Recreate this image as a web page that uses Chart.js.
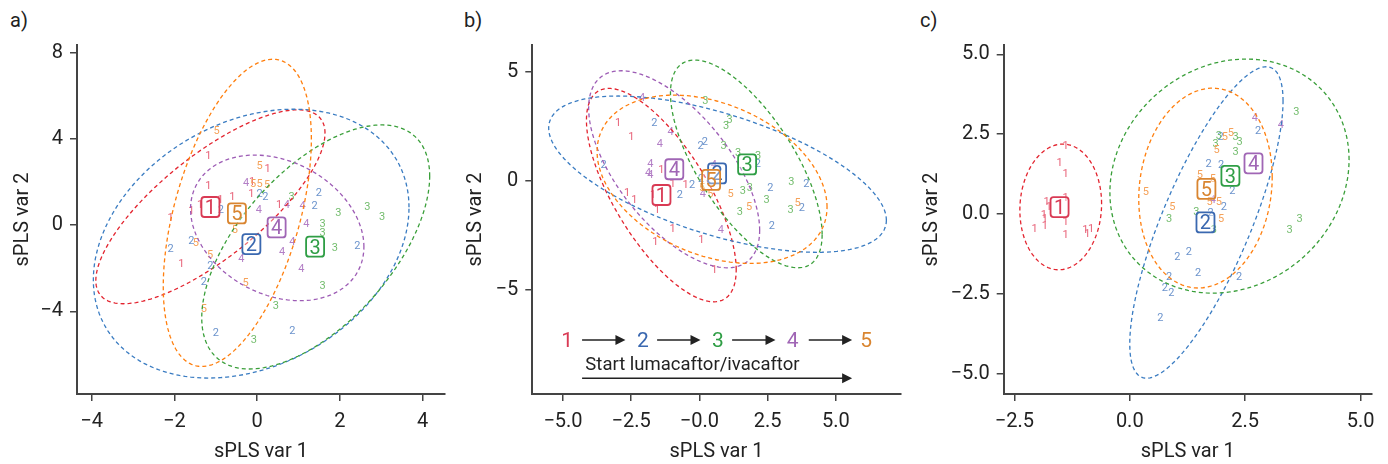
<!DOCTYPE html>
<html>
<head>
<meta charset="utf-8">
<script src="https://cdn.jsdelivr.net/npm/chart.js@4/dist/chart.umd.min.js"></script>
<style>
  body { margin: 0; background: #fff; width: 1388px; height: 464px; position: relative; overflow: hidden; }
  canvas { position: absolute; top: 0; }
  .plab { position: absolute; top: 8px; font: 20px Roboto, sans-serif; color: #222; line-height: 24px; }
</style>
</head>
<body>
<div class="plab" style="left:10px">a)</div>
<div class="plab" style="left:464px">b)</div>
<div class="plab" style="left:920px">c)</div>
<canvas id="pa" width="460" height="464" style="left:0"></canvas>
<canvas id="pb" width="460" height="464" style="left:460px"></canvas>
<canvas id="pc" width="468" height="464" style="left:920px"></canvas>
<script>
// groups 1..5 (visit), colours for ellipse / point text / centroid box
const GROUPS = ['1', '2', '3', '4', '5'];
const COL_LINE = ['#e3242f', '#3a7cc2', '#3a9f3a', '#9d5cb5', '#ff7f0e'];
const COL_TEXT = ['#e8647a', '#6b93cc', '#74bd6e', '#b37fc6', '#f5a25a'];
const COL_BOX  = ['#d93a54', '#3a68b0', '#2f9e45', '#a066b5', '#d98530'];

// ---- panel a
const aTicksX = [-4, -2, 0, 2, 4];
const aLabelsX = ['−4', '−2', '0', '2', '4'];
const aTicksY = [-4, 0, 4, 8];
const aLabelsY = ['−4', '0', '4', '8'];
const aG1 = [[-1.18,3.26],[0.25,2.65],[-1.18,1.87],[-0.12,2.03],[-0.60,1.36],[-0.89,1.22],[-0.14,1.48],[-1.38,0.99],[-1.59,0.68],[-2.09,0.37],[-1.83,-1.76],[0.53,0.99]];
const aG2 = [[0.06,1.48],[0.20,1.33],[-0.88,0.74],[1.49,1.52],[1.39,0.94],[-1.59,-0.68],[-2.09,-1.07],[-1.13,-1.84],[-1.29,-2.58],[2.42,-0.91],[-1.00,-4.98],[0.85,-4.86]];
const aG3 = [[0.83,1.33],[1.96,0.59],[2.66,0.90],[3.02,0.43],[1.58,0.12],[1.58,-0.34],[1.88,-1.02],[1.58,-2.77],[0.45,-3.70],[-0.08,-5.29]];
const aG4 = [[-0.27,1.98],[0.04,0.74],[0.72,0.99],[1.10,0.94],[1.19,0.09],[0.85,-0.76],[0.60,-1.18],[-0.38,-1.53],[1.07,-2.00]];
const aG5 = [[-0.98,4.42],[0.06,2.80],[-0.10,1.95],[0.06,1.95],[0.24,1.89],[-0.54,-0.19],[-1.48,-0.79],[-1.14,-1.33],[-0.28,-2.65],[-1.29,-3.85]];
const aCentroids = [[-1.13,0.84],[-0.14,-0.88],[1.40,-1.00],[0.47,-0.11],[-0.49,0.54]];
// ellipse: [cx, cy, half width, half height, correlation]
const aEllipses = [[-1.13,0.85,2.77,4.50,0.76],[-0.145,-0.86,3.815,6.24,0.27],[1.415,-1.015,2.755,5.665,0.58],[0.485,-0.13,2.095,3.38,-0.26],[-0.48,0.57,1.79,7.13,0.48]];

// ---- panel b
const bTicksX = [-5, -2.5, 0, 2.5, 5];
const bLabelsX = ['−5.0', '−2.5', '−0.0', '2.5', '5.0'];
const bTicksY = [-5, 0, 5];
const bLabelsY = ['−5', '0', '5'];
const bG1 = [[-2.98,2.72],[-2.49,2.06],[-1.39,0.54],[-0.98,-0.08],[-0.51,-0.14],[-1.70,-0.61],[-2.65,-0.49],[-2.38,-0.84],[-1.55,-1.30],[-0.98,-2.17],[-1.61,-2.75],[0.07,-2.68],[0.55,-4.05]];
const bG2 = [[-1.65,2.69],[0.04,1.65],[0.20,1.83],[-3.51,0.78],[-0.27,-0.14],[-0.72,-0.61],[0.06,0.12],[2.14,0.81],[2.60,-0.29],[3.92,-0.08],[3.76,-1.21],[2.66,-2.02]];
const bG3 = [[0.22,3.72],[0.98,2.57],[1.11,2.83],[0.89,1.65],[1.42,1.35],[2.15,1.19],[1.85,-0.29],[1.59,-0.41],[2.46,-0.83],[1.48,-1.36],[3.37,0.00],[3.34,-1.28]];
const bG4 = [[-2.10,3.87],[-1.06,2.31],[-1.45,1.73],[-1.80,0.81],[-1.88,0.43],[-1.80,0.32],[0.53,0.76],[0.13,-0.57],[0.79,-2.22]];
const bG5 = [[0.10,-0.29],[0.40,-0.57],[1.14,-0.54],[1.82,-1.15],[3.60,-0.95]];
const bCentroids = [[-1.39,-0.64],[0.65,0.35],[1.75,0.76],[-0.92,0.54],[0.43,0.05]];
const bEllipses = [[-1.395,-0.645,2.745,4.895,-0.70],[0.665,0.315,6.19,3.585,-0.59],[1.72,0.785,2.78,4.765,-0.68],[-0.925,0.54,3.135,4.52,-0.62],[0.465,0.08,4.215,3.86,-0.33]];
// visit sequence annotation (data coords)
const bSeqX = [-4.85, -2.07, 0.68, 3.42, 6.11];
const bSeqY = -7.29;
const bArrows = [[-4.30,-2.71],[-1.55,0.04],[1.20,2.79],[4.01,5.60]];
const bStartText = 'Start lumacaftor/ivacaftor';
const bStartPos = [-4.18, -8.39];
const bLongArrow = [-4.30, 5.60, -9.05];

// ---- panel c
const cTicksX = [-2.5, 0, 2.5, 5];
const cLabelsX = ['−2.5', '0.0', '2.5', '5.0'];
const cTicksY = [-5, -2.5, 0, 2.5, 5];
const cLabelsY = ['−5.0', '−2.5', '0.0', '2.5', '5.0'];
const cG1 = [[-1.39,2.15],[-1.52,1.63],[-1.39,1.28],[-1.39,0.53],[-1.80,0.40],[-1.75,0.26],[-1.86,0.01],[-1.84,-0.13],[-2.06,-0.44],[-1.84,-0.33],[-1.39,-0.23],[-1.39,-0.63],[-0.96,-0.47],[-0.84,-0.44],[-0.92,-0.59]];
const cG2 = [[2.78,2.64],[1.97,2.43],[1.71,1.59],[1.98,1.56],[2.22,0.76],[2.04,0.27],[1.75,0.06],[1.03,-1.30],[1.28,-1.14],[1.48,-1.81],[0.85,-1.95],[0.76,-2.28],[0.90,-2.42],[2.37,-1.95],[0.66,-3.22]];
const cG3 = [[3.61,3.23],[1.93,2.48],[1.86,2.24],[2.29,2.45],[2.38,2.30],[2.29,1.98],[1.44,0.11],[0.85,-0.13],[1.82,-0.47],[3.68,-0.13],[3.46,-0.47]];
const cG4 = [[2.71,3.05],[3.27,2.82],[1.80,0.47]];
const cG5 = [[2.19,2.56],[2.06,2.45],[1.88,2.03],[1.52,1.26],[1.80,1.13],[0.35,0.73],[0.92,0.26],[1.73,0.40],[1.93,0.40],[1.98,-0.13]];
const cCentroids = [[-1.52,0.22],[1.64,-0.26],[2.18,1.20],[2.68,1.59],[1.66,0.79]];
const cEllipses = [[-1.495,0.225,0.885,1.965,0.05],[1.66,-0.26,1.66,4.87,0.78],[2.16,1.19,2.59,3.66,0.14],null,[1.64,0.815,1.445,3.125,0.11]];

const FONT = 'Roboto, sans-serif';

// draws point numbers, ellipses, centroid boxes and extra notes
const overlay = {
  id: 'overlay',
  afterDatasetsDraw(chart) {
    const ctx = chart.ctx, xs = chart.scales.x, ys = chart.scales.y, ca = chart.chartArea;
    const o = chart.options.plugins.overlay;
    ctx.save();
    // point labels
    ctx.font = '11px ' + FONT;
    ctx.textAlign = 'center';
    ctx.textBaseline = 'alphabetic';
    chart.data.datasets.forEach((ds, di) => {
      if (ds.kind !== 'pts') return;
      ctx.fillStyle = COL_TEXT[ds.g];
      chart.getDatasetMeta(di).data.forEach(p => ctx.fillText(GROUPS[ds.g], p.x, p.y + 4));
    });
    // ellipses
    ctx.save();
    ctx.beginPath(); ctx.rect(ca.left, ca.top, ca.right - ca.left, ca.bottom - ca.top); ctx.clip();
    ctx.lineWidth = 1.3;
    ctx.setLineDash([4, 3]);
    o.ellipses.forEach((e, g) => {
      if (!e) return;
      const [cx, cy, a, b, r] = e, s = Math.sqrt(1 - r * r);
      ctx.strokeStyle = COL_LINE[g];
      ctx.beginPath();
      for (let k = 0; k <= 160; k++) {
        const t = k / 160 * Math.PI * 2;
        const px = xs.getPixelForValue(cx + a * Math.cos(t));
        const py = ys.getPixelForValue(cy + b * (r * Math.cos(t) + s * Math.sin(t)));
        if (k === 0) ctx.moveTo(px, py); else ctx.lineTo(px, py);
      }
      ctx.stroke();
    });
    ctx.restore();
    // centroid boxes
    chart.data.datasets.forEach((ds, di) => {
      if (ds.kind !== 'box') return;
      chart.getDatasetMeta(di).data.forEach((p, g) => {
        ctx.strokeStyle = COL_BOX[g];
        ctx.lineWidth = 1.8;
        ctx.beginPath();
        ctx.roundRect(p.x - 9, p.y - 10, 18, 20, 3);
        ctx.fillStyle = 'rgba(255,255,255,0.35)';
        ctx.fill();
        ctx.stroke();
        ctx.fillStyle = COL_BOX[g];
        ctx.font = '20px ' + FONT;
        ctx.fillText(GROUPS[g], p.x, p.y + 7);
      });
    });
    // sequence notes (panel b)
    if (o.seq) {
      const yy = ys.getPixelForValue(bSeqY);
      ctx.font = '21px ' + FONT;
      bSeqX.forEach((x, g) => {
        ctx.fillStyle = COL_BOX[g];
        ctx.fillText(GROUPS[g], xs.getPixelForValue(x), yy + 7.5);
      });
      const arrow = (x0, x1, y) => {
        ctx.strokeStyle = '#222'; ctx.fillStyle = '#222'; ctx.lineWidth = 1.5;
        ctx.beginPath(); ctx.moveTo(x0, y); ctx.lineTo(x1 - 6, y); ctx.stroke();
        ctx.beginPath(); ctx.moveTo(x1, y); ctx.lineTo(x1 - 10, y - 5); ctx.lineTo(x1 - 10, y + 5); ctx.closePath(); ctx.fill();
      };
      bArrows.forEach(([x0, x1]) => arrow(xs.getPixelForValue(x0), xs.getPixelForValue(x1), yy));
      ctx.fillStyle = '#222';
      ctx.font = '18.5px ' + FONT;
      ctx.textAlign = 'left';
      ctx.fillText(bStartText, xs.getPixelForValue(bStartPos[0]), ys.getPixelForValue(bStartPos[1]) + 6.5);
      arrow(xs.getPixelForValue(bLongArrow[0]), xs.getPixelForValue(bLongArrow[1]), ys.getPixelForValue(bLongArrow[2]));
    }
    ctx.restore();
  }
};

function axis(min, max, ticks, labels, title, isX, size, titlePad) {
  return {
    type: 'linear', min: min, max: max,
    afterBuildTicks: s => { s.ticks = ticks.map(v => ({ value: v })); },
    afterFit: s => { if (isX) s.height = size; else s.width = size; },
    ticks: {
      callback: v => labels[ticks.indexOf(v)],
      font: { family: FONT, size: 20 }, color: '#222',
      padding: isX ? 9 : 7, maxRotation: 0, autoSkip: false
    },
    grid: { drawOnChartArea: false, drawTicks: true, tickLength: 7, color: '#444', lineWidth: 1.5 },
    border: { display: true, color: '#444', width: 2 },
    title: { display: true, text: title, font: { family: FONT, size: 20 }, color: '#222',
             padding: isX ? { top: 0, bottom: 0 } : { top: titlePad, bottom: 0 } }
  };
}

function makePanel(id, groups, centroids, ellipses, xr, yr, yWidth, rightPad, yTitlePad, seq) {
  const datasets = groups.map((pts, g) => ({
    kind: 'pts', g: g, data: pts.map(([x, y]) => ({ x, y })), pointRadius: 0, showLine: false
  }));
  datasets.push({ kind: 'box', data: centroids.map(([x, y]) => ({ x, y })), pointRadius: 0, showLine: false });
  new Chart(document.getElementById(id), {
    type: 'scatter',
    data: { datasets },
    options: {
      responsive: false, animation: false, events: [],
      layout: { padding: { left: 0, right: rightPad, top: 45, bottom: 0 } },
      plugins: { legend: { display: false }, tooltip: { enabled: false },
                 overlay: { ellipses: ellipses, seq: seq } },
      scales: {
        x: axis(xr[0], xr[1], xr[2], xr[3], 'sPLS var 1', true, 70, 0),
        y: axis(yr[0], yr[1], yr[2], yr[3], 'sPLS var 2', false, yWidth, yTitlePad)
      }
    },
    plugins: [overlay]
  });
}

makePanel('pa', [aG1, aG2, aG3, aG4, aG5], aCentroids, aEllipses,
  [-4.355, 4.54, aTicksX, aLabelsX], [-7.84, 8.36, aTicksY, aLabelsY], 77, 15, 11, false);
makePanel('pb', [bG1, bG2, bG3, bG4, bG5], bCentroids, bEllipses,
  [-6.125, 7.38, bTicksX, bLabelsX], [-9.77, 6.24, bTicksY, bLabelsY], 72.3, 19.3, 3.5, true);
makePanel('pc', [cG1, cG2, cG3, cG4, cG5], cCentroids, cEllipses,
  [-2.73, 5.24, cTicksX, cLabelsX], [-5.625, 5.29, cTicksY, cLabelsY], 83.7, 16.3, 0, false);
</script>
</body>
</html>
